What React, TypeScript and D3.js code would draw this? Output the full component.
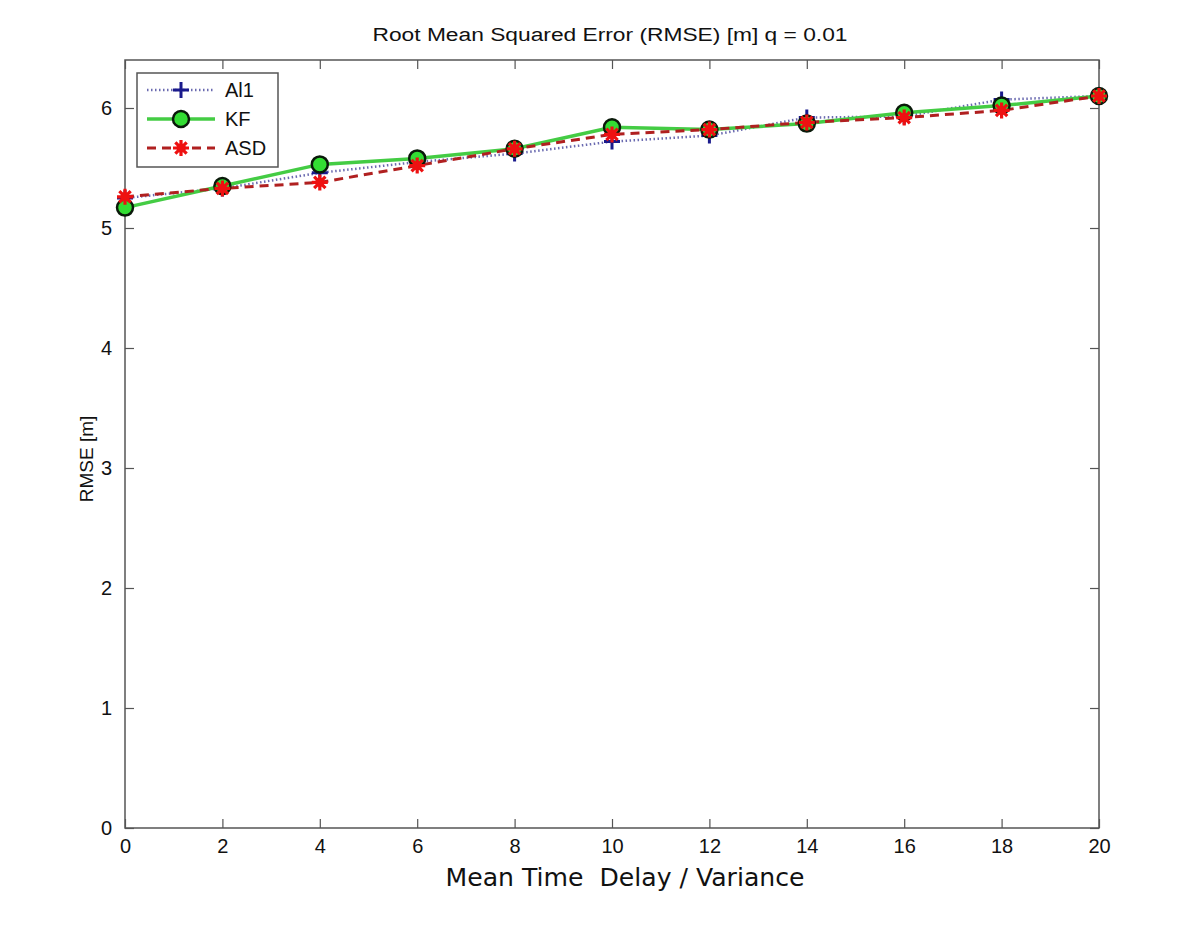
import React, { useEffect, useRef } from 'react';
import * as d3 from 'd3';

const xValues = [0, 2, 4, 6, 8, 10, 12, 14, 16, 18, 20];
const al1 = [5.25, 5.33, 5.46, 5.55, 5.62, 5.72, 5.77, 5.92, 5.93, 6.07, 6.1];
const kf = [5.17, 5.35, 5.53, 5.58, 5.66, 5.84, 5.82, 5.87, 5.96, 6.02, 6.1];
const asd = [5.26, 5.33, 5.38, 5.52, 5.66, 5.78, 5.82, 5.88, 5.92, 5.98, 6.1];
const xTicks = [0, 2, 4, 6, 8, 10, 12, 14, 16, 18, 20];
const yTicks = [0, 1, 2, 3, 4, 5, 6];
const legendNames = ['Al1', 'KF', 'ASD'];

const W = 1200, H = 926;
const M = { left: 125, right: 101, top: 60, bottom: 98 };

function App() {
  const ref = useRef<SVGSVGElement>(null);

  useEffect(() => {
    const svg = d3.select(ref.current);
    svg.selectAll('*').remove();

    const x = d3.scaleLinear().domain([0, 20]).range([M.left, W - M.right]);
    const y = d3.scaleLinear().domain([0, 6.4]).range([H - M.bottom, M.top]);
    const font = 'Liberation Sans, Arial, sans-serif';
    const axisColor = '#555';

    svg.append('rect').attr('width', W).attr('height', H).attr('fill', '#fff');

    // box
    svg.append('rect')
      .attr('x', x(0)).attr('y', y(6.4))
      .attr('width', x(20) - x(0)).attr('height', y(0) - y(6.4))
      .attr('fill', 'none').attr('stroke', axisColor).attr('stroke-width', 1.5);

    // axes, ticks pointing inward (matlab style)
    const tick = 9;
    const fmt = d3.format('d');
    const bottom = d3.axisBottom(x).tickValues(xTicks).tickFormat(fmt).tickSizeInner(-tick).tickSizeOuter(0).tickPadding(13);
    const gx = svg.append('g').attr('transform', `translate(0,${y(0)})`).call(bottom);
    const left = d3.axisLeft(y).tickValues(yTicks).tickFormat(fmt).tickSizeInner(-tick).tickSizeOuter(0).tickPadding(13);
    const gy = svg.append('g').attr('transform', `translate(${x(0)},0)`).call(left);
    const top = d3.axisTop(x).tickValues(xTicks).tickSizeInner(-tick).tickSizeOuter(0).tickFormat(() => '');
    const gt = svg.append('g').attr('transform', `translate(0,${y(6.4)})`).call(top);
    const right = d3.axisRight(y).tickValues(yTicks).tickSizeInner(-tick).tickSizeOuter(0).tickFormat(() => '');
    const gr = svg.append('g').attr('transform', `translate(${x(20)},0)`).call(right);
    [gx, gy, gt, gr].forEach(g => {
      g.attr('font-family', font).attr('font-size', 20);
      g.select('.domain').remove();
      g.selectAll('line').attr('stroke', axisColor).attr('stroke-width', 1.2);
      g.selectAll('text').attr('fill', '#111');
    });
    gx.selectAll('text').attr('dy', '0.6em');

    // titles
    svg.append('text').attr('x', 610).attr('y', 41)
      .attr('text-anchor', 'middle').attr('font-family', font).attr('font-size', 18).attr('fill', '#111')
      .attr('textLength', 475).attr('lengthAdjust', 'spacingAndGlyphs')
      .text('Root Mean Squared Error (RMSE) [m] q = 0.01');
    svg.append('text').attr('x', 625).attr('y', 886)
      .attr('text-anchor', 'middle').attr('font-family', 'DejaVu Sans, sans-serif').attr('font-size', 24).attr('fill', '#111')
      .attr('xml:space', 'preserve').attr('textLength', 359).attr('lengthAdjust', 'spacingAndGlyphs')
      .text('Mean Time  Delay / Variance');
    svg.append('text').attr('transform', `translate(93,459) rotate(-90)`)
      .attr('text-anchor', 'middle').attr('font-family', font).attr('font-size', 19).attr('fill', '#111')
      .text('RMSE [m]');

    const line = d3.line<number>().x((_, i) => x(xValues[i])).y(d => y(d));

    const plus = (g: any, cx: number, cy: number) => {
      g.append('path').attr('d', `M${cx - 8},${cy}H${cx + 8}M${cx},${cy - 8}V${cy + 8}`)
        .attr('stroke', '#1a1a8c').attr('stroke-width', 3);
    };
    const circle = (g: any, cx: number, cy: number) => {
      g.append('circle').attr('cx', cx).attr('cy', cy).attr('r', 8)
        .attr('fill', '#33dd33').attr('stroke', '#0a1a0a').attr('stroke-width', 2.5);
    };
    const star = (g: any, cx: number, cy: number) => {
      const r = 8;
      let d = '';
      for (let k = 0; k < 4; k++) {
        const a = (k * Math.PI) / 4;
        d += `M${cx - r * Math.cos(a)},${cy - r * Math.sin(a)}L${cx + r * Math.cos(a)},${cy + r * Math.sin(a)}`;
      }
      g.append('path').attr('d', d).attr('stroke', '#ee1111').attr('stroke-width', 3.2);
      g.append('circle').attr('cx', cx).attr('cy', cy).attr('r', 4.5).attr('fill', '#ee1111');
    };

    const series = [
      { data: al1, color: '#6a6ab0', dash: '1.5,2.5', width: 2.5, marker: plus },
      { data: kf, color: '#44cc44', dash: null, width: 3.5, marker: circle },
      { data: asd, color: '#b02020', dash: '9,6', width: 3, marker: star },
    ];

    const plot = svg.append('g');
    series.forEach(s => {
      plot.append('path').datum(s.data).attr('d', line).attr('fill', 'none')
        .attr('stroke', s.color).attr('stroke-width', s.width)
        .attr('stroke-dasharray', s.dash);
    });
    series.forEach(s => {
      s.data.forEach((v, i) => s.marker(plot, x(xValues[i]), y(v)));
    });

    // legend
    const lg = svg.append('g');
    lg.append('rect').attr('x', 137).attr('y', 73).attr('width', 141).attr('height', 94)
      .attr('fill', '#fff').attr('stroke', axisColor).attr('stroke-width', 1.5);
    series.forEach((s, i) => {
      const ly = 90 + i * 29;
      lg.append('line').attr('x1', 147).attr('x2', 215).attr('y1', ly).attr('y2', ly)
        .attr('stroke', s.color).attr('stroke-width', s.width).attr('stroke-dasharray', s.dash);
      s.marker(lg, 181, ly);
      lg.append('text').attr('x', 225).attr('y', ly + 7).attr('font-family', font)
        .attr('font-size', 20).attr('fill', '#111').text(legendNames[i]);
    });
  }, []);

  return <svg ref={ref} width={W} height={H} style={{ display: 'block', margin: '-8px' }} />;
}

export default App;
